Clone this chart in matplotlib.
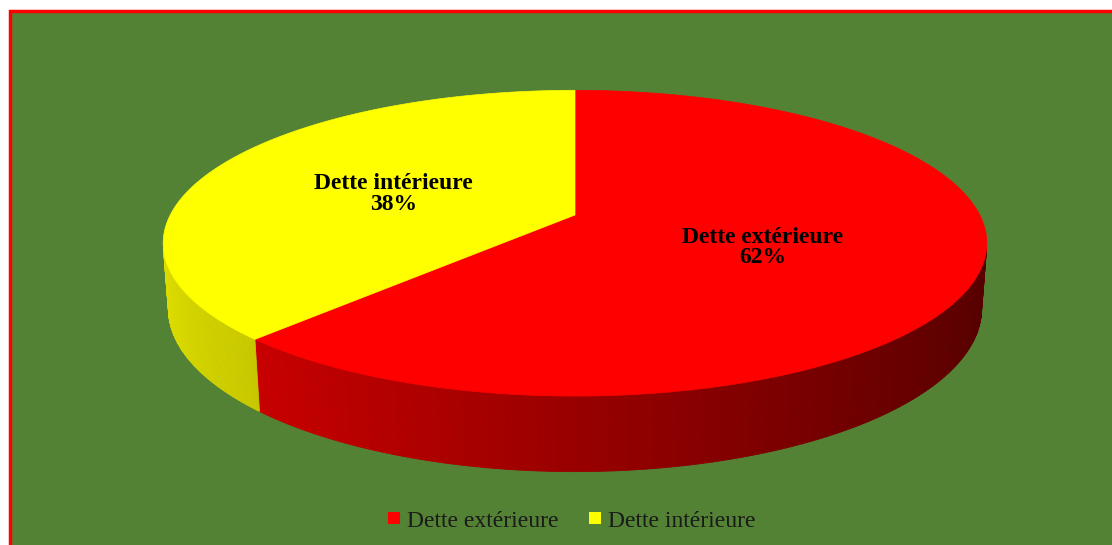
import numpy as np
import matplotlib.pyplot as plt
from matplotlib.patches import Polygon, Rectangle, Patch

# Data
labels = ['Dette extérieure', 'Dette intérieure']
values = [62, 38]
colors = ['#FF0000', '#FFFF00']

# 3D pie geometry (perspective view, pixel space)
cx, cy = 575, 215
tilt = np.radians(21.4)
dist = 5.05
focal = 2044
thick = 0.172
label_r = 0.49


def proj(phi, r=1.0, z=0.0):
    X = r * np.sin(phi)
    Y = r * np.cos(phi)
    depth = Y * np.cos(tilt) - z * np.sin(tilt) + dist
    up = Y * np.sin(tilt) + z * np.cos(tilt)
    return cx + focal * X / depth, cy - focal * up / depth


def shade(rgb, phi):
    f = np.clip(0.6 - 0.27 * np.sin(phi), 0, 1)
    return tuple(c * f for c in rgb)


fig = plt.figure(figsize=(11.12, 5.45), dpi=100, facecolor='white')
ax = fig.add_axes([0, 0, 1, 1])
ax.set_xlim(0, 1112)
ax.set_ylim(545, 0)
ax.axis('off')

# chart area
ax.add_patch(Rectangle((9.5, 11), 1200, 600, facecolor='#548235',
                       edgecolor='#FF0000', lw=2.5))

total = sum(values)
bounds = np.cumsum([0] + values) / total * 2 * np.pi
limit = -1.0 / (dist * np.cos(tilt))

# side walls
for i, col in enumerate(colors):
    rgb = plt.matplotlib.colors.to_rgb(col)
    ph = np.linspace(bounds[i], bounds[i + 1], 300)
    for a, b in zip(ph[:-1], ph[1:]):
        m = (a + b) / 2
        if np.cos(m) >= limit:
            continue
        pts = [proj(a), proj(b), proj(b, z=-thick), proj(a, z=-thick)]
        c = shade(rgb, m)
        ax.add_patch(Polygon(pts, closed=True, facecolor=c, edgecolor=c, lw=0.6))

# top faces
for i, col in enumerate(colors):
    ph = np.linspace(bounds[i], bounds[i + 1], 300)
    pts = [proj(0, r=0)] + [proj(p) for p in ph]
    ax.add_patch(Polygon(pts, closed=True, facecolor=col, edgecolor=col, lw=0.5))

# data labels
for i, lab in enumerate(labels):
    mid = (bounds[i] + bounds[i + 1]) / 2
    x, y = proj(mid, r=label_r)
    pct = '{:.0f}%'.format(values[i] / total * 100)
    ax.text(x - 3, y + 5, lab + '\n' + pct, ha='center', va='center',
            family='Liberation Serif', fontweight='bold', fontsize=17,
            linespacing=0.98, color='black')

# legend
handles = [Patch(facecolor=c, edgecolor='none') for c in colors]
fig.legend(handles, labels, loc='center', bbox_to_anchor=(0.514, 0.044),
           ncol=2, frameon=False, prop={'family': 'Liberation Serif', 'size': 17},
           handlelength=0.5, handleheight=0.35, handletextpad=0.3,
           columnspacing=1.3, labelcolor='#1a1a1a')

fig.savefig('out.png', dpi=100, facecolor='white')
